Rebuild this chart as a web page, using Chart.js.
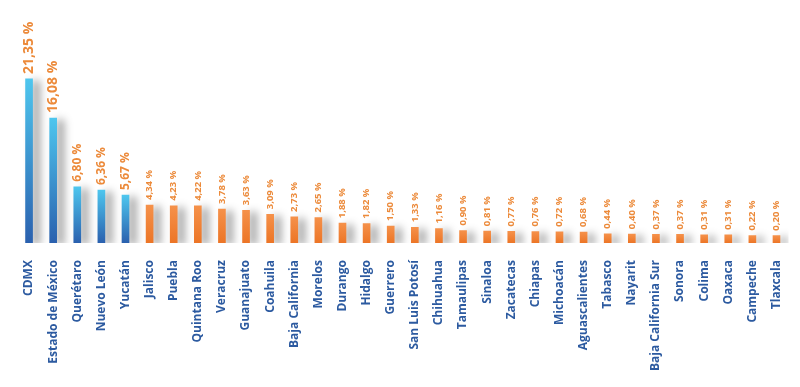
<!DOCTYPE html>
<html>
<head>
<meta charset="utf-8">
<script src="https://cdn.jsdelivr.net/npm/chart.js@4"></script>
<style>
  html, body { margin: 0; padding: 0; background: #fff; }
  #wrap { width: 800px; height: 387px; }
</style>
</head>
<body>
<div id="wrap"><canvas id="statesChart"></canvas></div>
<script>
const states = ['CDMX', 'Estado de México', 'Querétaro', 'Nuevo León', 'Yucatán', 'Jalisco', 'Puebla',
    'Quintana Roo', 'Veracruz', 'Guanajuato', 'Coahuila', 'Baja California', 'Morelos', 'Durango',
    'Hidalgo', 'Guerrero', 'San Luis Potosí', 'Chihuahua', 'Tamaulipas', 'Sinaloa', 'Zacatecas',
    'Chiapas', 'Michoacán', 'Aguascalientes', 'Tabasco', 'Nayarit', 'Baja California Sur', 'Sonora',
    'Colima', 'Oaxaca', 'Campeche', 'Tlaxcala'];
const shares = [21.35, 16.08, 6.80, 6.36, 5.67, 4.34, 4.23, 4.22, 3.78, 3.63, 3.09, 2.73, 2.65, 1.88,
    1.82, 1.50, 1.33, 1.16, 0.90, 0.81, 0.77, 0.76, 0.72, 0.68, 0.44, 0.40, 0.37, 0.37, 0.31, 0.31,
    0.22, 0.20];
const topCount = 5; // first five bars are blue

const blueText = '#2c5aa0';
const orangeText = '#ec8a3a';
const baseValue = -0.8;

// each bar gets its own gradient, from its top down to the axis
function barFill(context) {
    const chart = context.chart;
    const y = chart.scales.y;
    if (!chart.chartArea || !y) return '#ef7d2c';
    const top = y.getPixelForValue(context.raw);
    const bottom = y.getPixelForValue(baseValue);
    const g = chart.ctx.createLinearGradient(0, top, 0, bottom);
    if (context.dataIndex < topCount) {
        g.addColorStop(0, '#4ec6ee');
        g.addColorStop(1, '#2a60ae');
    } else {
        g.addColorStop(0, '#f5914a');
        g.addColorStop(1, '#ec7526');
    }
    return g;
}

// soft shadow to the right of the bars
const shadowPlugin = {
    id: 'barShadow',
    beforeDatasetsDraw(chart) {
        const c = chart.ctx;
        c.save();
        c.shadowColor = 'rgba(0,0,0,0.38)';
        c.shadowBlur = 8;
        c.shadowOffsetX = 7;
        c.shadowOffsetY = 2;
    },
    afterDatasetsDraw(chart) {
        chart.ctx.restore();
    }
};

// rotated value labels above the bars
const valuePlugin = {
    id: 'valueLabels',
    afterDatasetsDraw(chart) {
        const c = chart.ctx;
        const meta = chart.getDatasetMeta(0);
        meta.data.forEach((bar, i) => {
            let size = 9.5;
            if (i < 2) size = 14;
            else if (i < topCount) size = 12;
            c.save();
            c.translate(bar.x, bar.y - 5);
            c.rotate(-Math.PI / 2);
            c.font = 'bold ' + size + 'px "Open Sans"';
            c.fillStyle = orangeText;
            c.textAlign = 'left';
            c.textBaseline = 'middle';
            c.fillText(shares[i].toFixed(2).replace('.', ',') + ' %', 0, 0);
            c.restore();
        });
    }
};

const ctx = document.getElementById('statesChart').getContext('2d');
const statesChart = new Chart(ctx, {
    type: 'bar',
    data: {
        labels: states,
        datasets: [{
            data: shares,
            base: baseValue,
            backgroundColor: barFill,
            barThickness: 7,
            borderWidth: 0
        }]
    },
    options: {
        responsive: true,
        maintainAspectRatio: false,
        animation: false,
        layout: { padding: { left: 17, right: 7, top: 0, bottom: 7 } },
        plugins: {
            legend: { display: false },
            tooltip: { enabled: false }
        },
        scales: {
            x: {
                grid: { display: false },
                border: { display: false },
                ticks: {
                    minRotation: 90,
                    maxRotation: 90,
                    autoSkip: false,
                    padding: 9,
                    color: blueText,
                    font: { family: 'Open Sans', size: 12, weight: 'bold' }
                }
            },
            y: {
                display: false,
                min: baseValue,
                max: 32
            }
        }
    },
    plugins: [shadowPlugin, valuePlugin]
});
</script>
</body>
</html>
